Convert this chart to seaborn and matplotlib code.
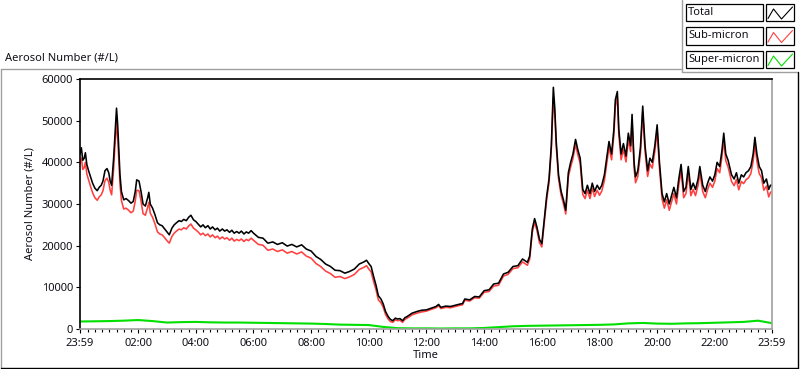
import matplotlib
matplotlib.use("Agg")
import matplotlib.pyplot as plt
from matplotlib.lines import Line2D
from matplotlib.patches import Rectangle
from matplotlib.ticker import FixedLocator
import numpy as np
import pandas as pd
import seaborn as sns

# ─── Data (hours after midnight) ──────────────────────────────────────────────

TIME_H = [
    -0.017, 0.03, 0.08, 0.13, 0.17, 0.22, 0.28, 0.35, 0.42, 0.5,
    0.58, 0.65, 0.72, 0.78, 0.85, 0.92, 0.98, 1.03, 1.08, 1.15,
    1.2, 1.25, 1.29, 1.33, 1.37, 1.42, 1.5, 1.58, 1.67, 1.75,
    1.83, 1.9, 1.95, 2.03, 2.1, 2.17, 2.25, 2.33, 2.37, 2.42,
    2.5, 2.58, 2.67, 2.75, 2.83, 2.92, 3.0, 3.08, 3.17, 3.25,
    3.33, 3.42, 3.5, 3.58, 3.67, 3.75, 3.83, 3.92, 4.0, 4.08,
    4.17, 4.25, 4.33, 4.42, 4.5, 4.58, 4.67, 4.75, 4.83, 4.92,
    5.0, 5.08, 5.17, 5.25, 5.33, 5.42, 5.5, 5.58, 5.67, 5.75,
    5.83, 5.92,
    6.0, 6.17, 6.33, 6.5, 6.67, 6.83, 7.0, 7.17, 7.33, 7.5,
    7.67, 7.83, 8.0, 8.17, 8.33, 8.5, 8.67, 8.83, 9.0, 9.17,
    9.33, 9.5, 9.67, 9.83, 9.92, 10.0, 10.08, 10.17, 10.25, 10.33,
    10.42, 10.5, 10.58, 10.67, 10.75, 10.83, 10.92, 11.0, 11.08, 11.17,
    11.25, 11.33, 11.5, 11.67, 11.83,
    12.0, 12.17, 12.33, 12.42, 12.5, 12.67, 12.83, 13.0, 13.17, 13.25,
    13.33, 13.5, 13.67, 13.83, 14.0, 14.17, 14.33, 14.5, 14.67, 14.83,
    15.0, 15.17, 15.33, 15.5, 15.58, 15.67, 15.75, 15.83, 15.92, 16.0,
    16.08, 16.17, 16.25, 16.33, 16.4, 16.45, 16.5, 16.58, 16.67, 16.75,
    16.83, 16.92, 17.0, 17.08, 17.17, 17.25, 17.33, 17.42, 17.5, 17.58,
    17.67, 17.75, 17.83, 17.92,
    18.0, 18.08, 18.17, 18.25, 18.33, 18.42, 18.5, 18.55, 18.62, 18.67,
    18.75, 18.83, 18.92, 19.0, 19.08, 19.13, 19.2, 19.25, 19.33, 19.42,
    19.5, 19.58, 19.67, 19.75, 19.83, 19.92, 20.0, 20.08, 20.17, 20.25,
    20.33, 20.42, 20.5, 20.58, 20.67, 20.75, 20.83, 20.92, 21.0, 21.08,
    21.17, 21.25, 21.33, 21.42, 21.48, 21.58, 21.67, 21.75, 21.83, 21.92,
    22.0, 22.08, 22.17, 22.25, 22.31, 22.38, 22.46, 22.58, 22.67, 22.75,
    22.83, 22.92, 23.0, 23.08, 23.17, 23.25, 23.33, 23.39, 23.46, 23.54,
    23.62, 23.7, 23.79, 23.87, 23.93, 23.983,
]

TOTAL = [
    42000, 43500, 40500, 41000, 42300, 39500, 38000, 36500, 35000, 33800,
    33200, 34000, 34500, 35500, 38000, 38500, 37500, 35500, 34500, 41000,
    47000, 53000, 49000, 43000, 37000, 33000, 31000, 31300, 30800, 30200,
    30600, 33000, 35800, 35500, 33000, 30000, 29500, 31500, 32800, 30000,
    29000, 27500, 25500, 25000, 24800, 24000, 23300, 22600, 24200, 25000,
    25500, 26000, 25800, 26300, 26000, 26800, 27300, 26200, 25800, 25200,
    24500, 25000, 24300, 24800, 24000, 24500, 23800, 24200, 23500, 24000,
    23500, 23800, 23200, 23700, 23000, 23400, 23000, 23500, 22800, 23300,
    23000, 23600,
    23000, 22000, 21800, 20600, 20900, 20300, 20700, 19900, 20300, 19700,
    20200, 19200, 18700, 17400, 16700, 15600, 15000, 14100, 14000, 13400,
    13800, 14400, 15600, 16100, 16500, 15700, 15000, 12500, 10500, 8000,
    7200, 6000, 4200, 3000, 2300, 2000, 2600, 2400, 2500, 2000,
    2700, 3000, 3800, 4200, 4500,
    4600, 5000, 5400, 5900, 5200, 5500, 5400, 5700, 6000, 6100,
    7200, 7000, 7800, 7700, 9200, 9400, 10800, 11000, 13200, 13600,
    15000, 15200, 16800, 16000, 17500, 24000, 26500, 24500, 21500, 20500,
    26000, 32000, 36000, 44000, 58000, 53000, 45000, 37000, 33000, 31000,
    28500, 37500, 40000, 42000, 45500, 43000, 41000, 33500, 32500, 34500,
    32500, 35000, 33000, 34500,
    33500, 34500, 37000, 41000, 45000, 42000, 48000, 55000, 57000, 48000,
    42000, 44500, 41500, 47000, 44000, 51500, 40000, 36500, 38000, 43500,
    53500, 44000, 38000, 41000, 40000, 44000, 49000, 40000, 32500, 30500,
    32500, 30000, 32000, 34000, 31500, 36000, 39500, 33000, 34000, 39000,
    33500, 35000, 33500, 36000, 39000, 34500, 33000, 35000, 36500, 35500,
    37000, 40000, 39000, 43000, 47000, 42000, 40500, 37000, 36000, 37500,
    35000, 37000, 36500, 37500, 38000, 39000, 42000, 46000, 42000, 39000,
    38000, 35000, 36000, 33500, 34500, 34500,
]

SUB_MICRON = [
    39800, 41000, 38300, 38700, 40000, 37200, 35800, 34200, 32700, 31500,
    30900, 31700, 32200, 33200, 35600, 36200, 35200, 33300, 32200, 38500,
    44500, 49500, 46000, 40500, 34700, 30800, 28800, 29000, 28500, 27900,
    28300, 30700, 33300, 33200, 30700, 27700, 27300, 29200, 30400, 27800,
    26800, 25300, 23300, 22800, 22600, 21900, 21200, 20600, 22200, 23000,
    23500, 24000, 23800, 24300, 24000, 24700, 25200, 24200, 23800, 23300,
    22600, 23000, 22400, 22800, 22100, 22600, 21900, 22300, 21600, 22100,
    21600, 21900, 21300, 21800, 21100, 21500, 21200, 21600, 21000, 21500,
    21200, 21800,
    21300, 20300, 20100, 18900, 19200, 18600, 19000, 18200, 18600, 18000,
    18500, 17500, 17000, 15700, 15000, 13900, 13300, 12400, 12600, 12100,
    12500, 13100, 14300, 14800, 15200, 14400, 13700, 11300, 9400, 7000,
    6300, 5200, 3500, 2400, 1800, 1600, 2200, 2000, 2100, 1600,
    2300, 2600, 3400, 3800, 4100,
    4300, 4700, 5100, 5600, 4900, 5200, 5100, 5400, 5700, 5800,
    6900, 6700, 7500, 7400, 8800, 9000, 10300, 10500, 12700, 13100,
    14500, 14700, 16100, 15300, 16800, 23200, 25600, 23700, 20700, 19700,
    25200, 31100, 35100, 43100, 55500, 51500, 43800, 36000, 32100, 30100,
    27600, 36500, 38900, 40900, 44300, 41800, 39800, 32300, 31300, 33300,
    31300, 33800, 31800, 33300,
    32100, 33100, 35600, 39600, 43600, 40600, 46600, 53500, 55500, 46600,
    40600, 43100, 40100, 45500, 42600, 50000, 38600, 35100, 36600, 42100,
    52000, 42600, 36600, 39600, 38600, 42600, 47600, 38600, 31200, 29000,
    31000, 28500, 30500, 32500, 30000, 34500, 38000, 31500, 32500, 37500,
    32000, 33500, 32000, 34500, 37500, 33000, 31500, 33500, 35000, 34000,
    35500, 38500, 37500, 41500, 45400, 40400, 38900, 35400, 34400, 35900,
    33400, 35400, 34900, 35800, 36300, 37300, 40300, 44300, 40300, 37300,
    36300, 33300, 34300, 31700, 32800, 33000,
]

SUPER_TIME_H = [
    -0.017, 0.5, 1.0, 1.5, 2.0, 2.5, 3.0, 3.5, 4.0, 4.5,
    5.0, 5.5, 6.0, 6.5, 7.0, 7.5, 8.0, 8.5, 9.0, 9.5,
    10.0, 10.5, 11.0, 11.5, 12.0, 12.5, 13.0, 13.5, 14.0, 14.5,
    15.0, 15.5, 16.0, 16.5, 17.0, 17.5, 18.0, 18.5, 19.0, 19.5,
    20.0, 20.5, 21.0, 21.5, 22.0, 22.5, 23.0, 23.5, 23.983,
]
SUPER_MICRON = [
    1800, 1850, 1900, 2000, 2150, 1900, 1550, 1650, 1700, 1600,
    1550, 1550, 1500, 1450, 1400, 1350, 1300, 1200, 1050, 1000,
    950, 500, 200, 150, 150, 120, 150, 150, 250, 450,
    650, 750, 800, 850, 900, 950, 1000, 1100, 1350, 1450,
    1300, 1250, 1350, 1400, 1500, 1600, 1700, 2000, 1400,
]

X_TICKS = [-1 / 60, 2, 4, 6, 8, 10, 12, 14, 16, 18, 20, 22, 24 - 1 / 60]
X_TICK_LABELS = ["23:59", "02:00", "04:00", "06:00", "08:00", "10:00", "12:00",
                 "14:00", "16:00", "18:00", "20:00", "22:00", "23:59"]
Y_TICKS = [0, 10000, 20000, 30000, 40000, 50000, 60000]

SERIES = ["Total", "Sub-micron", "Super-micron"]
COLORS = {"Total": "#000000", "Sub-micron": "#ff4040", "Super-micron": "#00e000"}

assert len(TIME_H) == len(TOTAL) == len(SUB_MICRON)
assert len(SUPER_TIME_H) == len(SUPER_MICRON)

# ─── Figure ───────────────────────────────────────────────────────────────────

W, H = 800, 369
sns.set_style("white")
plt.rcParams["font.family"] = ["Noto Sans", "DejaVu Sans"]
FS = 8

fig = plt.figure(figsize=(W / 100, H / 100), dpi=100)
ax = fig.add_axes([80 / W, 1 - 329 / H, 692 / W, 250 / H])


def fx(px):
    return px / W


def fy(py):
    return 1 - py / H


df_main = pd.DataFrame({"hours": TIME_H, "Total": TOTAL, "Sub-micron": SUB_MICRON})
df_super = pd.DataFrame({"hours": SUPER_TIME_H, "Super-micron": SUPER_MICRON})

sns.lineplot(data=df_super, x="hours", y="Super-micron", ax=ax,
             color=COLORS["Super-micron"], lw=1.5, estimator=None, sort=False)
sns.lineplot(data=df_main, x="hours", y="Sub-micron", ax=ax,
             color=COLORS["Sub-micron"], lw=1.15, estimator=None, sort=False)
sns.lineplot(data=df_main, x="hours", y="Total", ax=ax,
             color=COLORS["Total"], lw=1.15, estimator=None, sort=False)

ax.set_xlim(-1 / 60, 24 - 1 / 60)
ax.set_ylim(0, 60000)
ax.set_xticks(X_TICKS)
ax.set_xticklabels(X_TICK_LABELS)
ax.xaxis.set_minor_locator(FixedLocator([q / 4 for q in range(1, 96) if q % 8]))
ax.set_yticks(Y_TICKS)
ax.set_yticklabels([str(v) for v in Y_TICKS])

ax.tick_params(axis="both", which="major", direction="out", length=3.2, width=0.8,
               color="black", labelsize=FS, labelcolor="#101018", pad=2)
ax.tick_params(axis="x", which="minor", direction="out", length=2, width=0.8,
               color="black", bottom=True)
ax.tick_params(axis="x", which="major", bottom=True, pad=3)
ax.tick_params(axis="y", which="major", left=True)

ax.set_xlabel("Time", fontsize=FS, labelpad=1, color="#101018")
ax.set_ylabel("Aerosol Number (#/L)", fontsize=FS, labelpad=4, color="#101018")

for side in ["left", "top"]:
    ax.spines[side].set_color("black")
    ax.spines[side].set_linewidth(1.2)
for side in ["right", "bottom"]:
    ax.spines[side].set_color("#a0a0a0")
    ax.spines[side].set_linewidth(1.2)

fig.text(fx(5), fy(58), "Aerosol Number (#/L)", fontsize=FS, va="center",
         ha="left", color="#101018")

# outer raised frame
GRAY = "#a0a0a0"
frame = [
    ((0.5, 69), (682, 69), GRAY),
    ((0.5, 69), (0.5, 369), GRAY),
    ((682, 0), (682, 72), GRAY),
    ((682, 72), (798, 72), GRAY),
    ((798, 72), (798, 368), "black"),
    ((0.5, 368), (798, 368), "black"),
]
for (x0, y0), (x1, y1), c in frame:
    fig.add_artist(Line2D([fx(x0), fx(x1)], [fy(y0), fy(y1)], color=c, lw=1.0))

# legend: name box + zigzag symbol box per series
for i, name in enumerate(SERIES):
    top = 4 + i * 23.5
    fig.add_artist(Rectangle((fx(686), fy(top + 17)), (763 - 686) / W, 17 / H,
                             fill=False, edgecolor="black", lw=0.9))
    fig.add_artist(Rectangle((fx(766), fy(top + 17)), (794 - 766) / W, 17 / H,
                             fill=False, edgecolor="black", lw=0.9))
    fig.text(fx(688), fy(top + 8.5), name, fontsize=FS, va="center", ha="left",
             color="#101018")
    zx = [768, 773.5, 781.5, 792.5]
    zy = [top + 14.5, top + 5, top + 15, top + 3]
    fig.add_artist(Line2D([fx(v) for v in zx], [fy(v) for v in zy],
                          color=COLORS[name], lw=0.8))

fig.savefig("out.png", dpi=100)
